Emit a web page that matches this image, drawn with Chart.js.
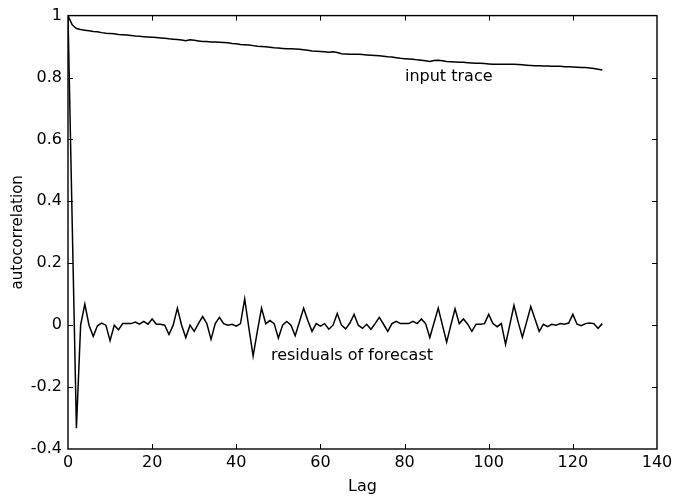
<!DOCTYPE html>
<html>
<head>
<meta charset="utf-8">
<script src="https://cdn.jsdelivr.net/npm/chart.js@4"></script>
<style>
  html, body { margin: 0; padding: 0; background: #fff; }
  #wrap { width: 673px; height: 496px; position: relative; }
</style>
</head>
<body>
<div id="wrap"><canvas id="chart"></canvas></div>
<script>
// lag values (x axis)
const lags = [0,1,2,3,4,5,6,7,8,9,10,11,12,13,14,15,16,17,18,19,20,21,22,23,24,25,26,27,28,29,
  30,31,32,33,34,35,36,37,38,39,40,41,42,43,44,45,46,47,48,49,50,51,52,53,54,55,56,57,58,59,
  60,61,62,63,64,65,66,67,68,69,70,71,72,73,74,75,76,77,78,79,80,81,82,83,84,85,86,87,88,89,
  90,91,92,93,94,95,96,97,98,99,100,101,102,103,104,105,106,107,108,109,110,111,112,113,114,115,116,117,118,119,
  120,121,122,123,124,125,126,127];

// autocorrelation of the input trace
const inputTrace = [1.0,0.97,0.958,0.955,0.953,0.951,0.949,0.948,0.945,0.943,
  0.942,0.941,0.939,0.938,0.937,0.936,0.934,0.933,0.932,0.931,
  0.930,0.929,0.928,0.927,0.925,0.924,0.923,0.921,0.919,0.922,
  0.920,0.918,0.916,0.916,0.915,0.915,0.914,0.913,0.912,0.910,
  0.909,0.907,0.906,0.905,0.903,0.901,0.900,0.899,0.898,0.896,
  0.895,0.894,0.893,0.893,0.892,0.891,0.890,0.888,0.886,0.885,
  0.884,0.883,0.882,0.883,0.881,0.877,0.876,0.875,0.875,0.875,
  0.874,0.873,0.872,0.871,0.870,0.869,0.867,0.866,0.864,0.862,
  0.861,0.860,0.859,0.857,0.856,0.854,0.852,0.855,0.856,0.854,
  0.852,0.851,0.850,0.849,0.849,0.848,0.847,0.846,0.846,0.845,
  0.844,0.843,0.843,0.843,0.843,0.843,0.843,0.842,0.841,0.840,
  0.839,0.838,0.838,0.837,0.837,0.836,0.836,0.836,0.835,0.835,
  0.834,0.833,0.832,0.832,0.831,0.829,0.827,0.824];

// autocorrelation of the forecast residuals
const residuals = [1.0,0.33,-0.333,0.0,0.068,0.0,-0.036,-0.002,0.007,0.0,
  -0.05,0.0,-0.015,0.005,0.005,0.005,0.01,0.003,0.012,0.003,
  0.02,0.003,0.003,0.0,-0.03,0.0,0.055,0.0,-0.04,0.0,
  -0.02,0.005,0.028,0.005,-0.046,0.005,0.025,0.005,0.0,0.003,
  -0.003,0.005,0.085,-0.01,-0.1,-0.02,0.055,0.005,0.015,0.005,
  -0.042,0.0,0.012,0.0,-0.034,0.01,0.055,0.015,-0.02,0.005,
  -0.003,0.005,-0.013,0.0,0.038,0.0,-0.012,0.007,0.035,0.0,
  -0.01,0.003,-0.013,0.005,0.025,0.003,-0.02,0.005,0.012,0.005,
  0.005,0.005,0.012,0.005,0.02,0.005,-0.04,0.008,0.055,0.0,
  -0.055,0.0,0.053,0.005,0.02,0.003,-0.02,0.003,0.003,0.005,
  0.035,0.005,-0.005,0.005,-0.062,0.0,0.064,0.01,-0.039,0.01,
  0.06,0.02,-0.02,0.003,-0.005,0.003,0.0,0.005,0.003,0.007,
  0.035,0.003,-0.002,0.005,0.007,0.005,-0.01,0.005];

// in-plot text labels: [text, lag, value]
const noteLabels = [
  ['input trace', 90.5, 0.803],
  ['residuals of forecast', 67.5, -0.098]
];

const FONT = '"DejaVu Sans", "Liberation Sans", Arial, sans-serif';

function toPoints(vals) {
  return vals.map((v, i) => ({ x: lags[i], y: v }));
}

// matlab style frame with inward ticks on all four sides
const framePlugin = {
  id: 'frame',
  afterDraw(chart) {
    const ctx = chart.ctx;
    const a = chart.chartArea;
    const xs = chart.scales.x, ys = chart.scales.y;
    ctx.save();
    ctx.strokeStyle = '#000';
    ctx.lineWidth = 1.4;
    ctx.strokeRect(a.left, a.top, a.right - a.left, a.bottom - a.top);
    ctx.lineWidth = 1;
    const len = 5;
    xs.ticks.forEach(t => {
      if (t.value === xs.min || t.value === xs.max) return;
      const px = Math.round(xs.getPixelForValue(t.value)) + 0.5;
      ctx.beginPath();
      ctx.moveTo(px, a.bottom); ctx.lineTo(px, a.bottom - len);
      ctx.moveTo(px, a.top); ctx.lineTo(px, a.top + len);
      ctx.stroke();
    });
    ys.ticks.forEach(t => {
      if (t.value === ys.min || t.value === ys.max) return;
      const py = Math.round(ys.getPixelForValue(t.value)) + 0.5;
      ctx.beginPath();
      ctx.moveTo(a.left, py); ctx.lineTo(a.left + len, py);
      ctx.moveTo(a.right, py); ctx.lineTo(a.right - len, py);
      ctx.stroke();
    });
    // text notes
    ctx.fillStyle = '#000';
    ctx.font = '16px ' + FONT;
    ctx.textAlign = 'center';
    ctx.textBaseline = 'middle';
    noteLabels.forEach(n => {
      ctx.fillText(n[0], xs.getPixelForValue(n[1]), ys.getPixelForValue(n[2]));
    });
    ctx.restore();
  }
};

new Chart(document.getElementById('chart'), {
  type: 'line',
  data: {
    datasets: [
      {
        label: 'input trace',
        data: toPoints(inputTrace),
        borderColor: '#000',
        borderWidth: 1.5,
        pointRadius: 0,
        tension: 0
      },
      {
        label: 'residuals of forecast',
        data: toPoints(residuals),
        borderColor: '#000',
        borderWidth: 1.5,
        pointRadius: 0,
        tension: 0
      }
    ]
  },
  options: {
    responsive: true,
    maintainAspectRatio: false,
    animation: false,
    layout: { padding: { top: 14, right: 16, left: 0, bottom: 0 } },
    plugins: {
      legend: { display: false },
      tooltip: { enabled: false }
    },
    scales: {
      x: {
        type: 'linear',
        min: 0,
        max: 140,
        ticks: { stepSize: 20, color: '#000', font: { family: FONT, size: 16 }, padding: 4, maxRotation: 0 },
        grid: { display: false, drawTicks: false, tickLength: 0 },
        border: { display: false },
        title: { display: true, text: 'Lag', color: '#000', font: { family: FONT, size: 16 }, padding: { top: 0, bottom: 0 } },
        afterFit(scale) {
          scale.height = 47;
          scale.paddingRight = 0;
          scale.paddingLeft = 0;
        }
      },
      y: {
        min: -0.4,
        max: 1,
        ticks: {
          stepSize: 0.2,
          color: '#000',
          font: { family: FONT, size: 16 },
          padding: 6,
          callback: v => {
            const r = Math.round(v * 10) / 10;
            return r === 0 ? '0' : (r === 1 ? '1' : String(r));
          }
        },
        grid: { display: false, drawTicks: false, tickLength: 0 },
        border: { display: false },
        title: { display: true, text: 'autocorrelation', color: '#000', font: { family: FONT, size: 15 }, padding: { top: 9, bottom: 0 } },
        afterFit(scale) { scale.width = 68; }
      }
    }
  },
  plugins: [framePlugin]
});
</script>
</body>
</html>
